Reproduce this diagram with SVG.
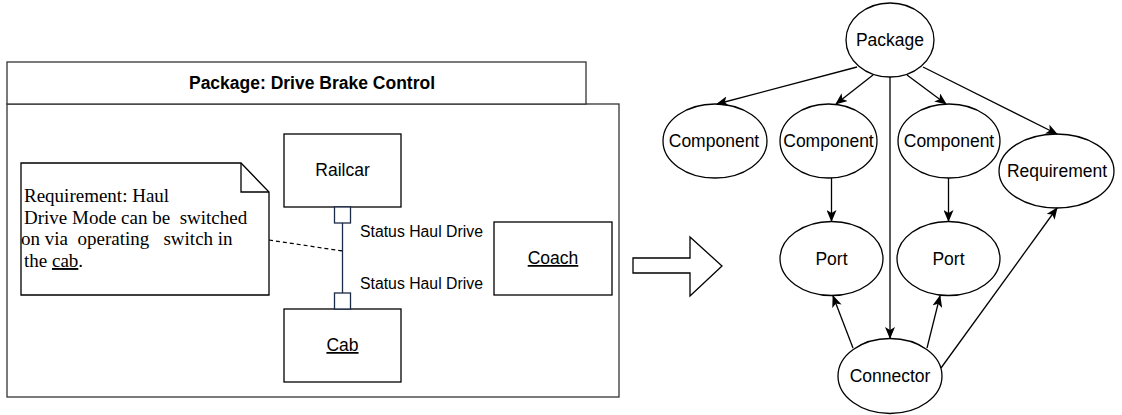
<svg xmlns="http://www.w3.org/2000/svg" width="1122" height="415" viewBox="0 0 1122 415">
  <style>
    .sans { font-family: "Liberation Sans", Arial, sans-serif; fill: #000; }
    .lbl { font-size: 17.5px; text-anchor: middle; }
    .serif { font-family: "Liberation Serif", "Times New Roman", serif; fill: #000; font-size: 19px; white-space: pre; }
    .box { fill: #fff; stroke: #333; stroke-width: 1.3; }
    .node { fill: #fff; stroke: #000; stroke-width: 1.3; }
    .edge { fill: none; stroke: #000; stroke-width: 1.3; }
    .port { fill: #fff; stroke: #1b2a45; stroke-width: 1.3; }
    .u { text-decoration: underline; }
  </style>
  <defs>
    <marker id="arrow" viewBox="0 0 12 10" refX="11" refY="5" markerWidth="12" markerHeight="10" markerUnits="userSpaceOnUse" orient="auto">
      <path d="M0,0 L12,5 L0,10 L3,5 Z" fill="#000"/>
    </marker>
  </defs>

  <rect width="1122" height="415" fill="#fff"/>

  <!-- Package frame -->
  <g id="package-frame">
    <rect class="box" x="7" y="104" width="612" height="293"/>
    <rect class="box" x="7" y="62" width="579" height="42"/>
    <text class="sans" x="312" y="89" font-size="17.5" font-weight="bold" text-anchor="middle">Package: Drive Brake Control</text>
  </g>

  <!-- Requirement note -->
  <g id="note">
    <path class="node" d="M21,163 H241 L269,192 V295 H21 Z"/>
    <path class="edge" d="M241,163 V192 H269"/>
    <text class="serif" x="24" y="202">Requirement: Haul</text>
    <text class="serif" x="24" y="224">Drive Mode can be  switched</text>
    <text class="serif" x="21" y="245">on via  operating   switch in</text>
    <text class="serif" x="24" y="267">the <tspan class="u">cab</tspan>.</text>
  </g>

  <g id="railcar">
    <rect class="node" x="284" y="134" width="117" height="73"/>
    <text class="sans lbl" x="342.5" y="176">Railcar</text>
  </g>

  <g id="cab">
    <rect class="node" x="284" y="309" width="117" height="73"/>
    <text class="sans lbl u" x="342.5" y="351">Cab</text>
  </g>

  <g id="coach">
    <rect class="node" x="494" y="222" width="118" height="73"/>
    <text class="sans lbl u" x="553" y="264">Coach</text>
  </g>

  <!-- Ports and link between Railcar and Cab -->
  <g id="link">
    <line x1="342.5" y1="223" x2="342.5" y2="293" stroke="#1b2a45" stroke-width="1.3"/>
    <rect class="port" x="334.5" y="207" width="16" height="16"/>
    <rect class="port" x="334.5" y="293" width="16" height="16"/>
    <line x1="269" y1="240" x2="342.5" y2="251" stroke="#000" stroke-width="1.2" stroke-dasharray="4,3"/>
    <text class="sans" x="360" y="237" font-size="15.8">Status Haul Drive</text>
    <text class="sans" x="360" y="289" font-size="15.8">Status Haul Drive</text>
  </g>

  <!-- Transformation arrow -->
  <g id="block-arrow">
    <path class="node" d="M633,258 H690 V237 L722,266 L690,296 V273 H633 Z"/>
  </g>

  <!-- Graph nodes -->
  <g id="n-package">
    <ellipse class="node" cx="890" cy="40" rx="44" ry="37"/>
    <text class="sans lbl" x="890" y="46">Package</text>
  </g>
  <g id="n-component1">
    <ellipse class="node" cx="715" cy="141" rx="52" ry="37"/>
    <text class="sans lbl" x="714" y="147">Component</text>
  </g>
  <g id="n-component2">
    <ellipse class="node" cx="828.5" cy="141" rx="48.5" ry="37"/>
    <text class="sans lbl" x="828.5" y="147">Component</text>
  </g>
  <g id="n-component3">
    <ellipse class="node" cx="949" cy="141" rx="51" ry="37"/>
    <text class="sans lbl" x="949" y="147">Component</text>
  </g>
  <g id="n-requirement">
    <ellipse class="node" cx="1056.5" cy="171" rx="57.5" ry="37"/>
    <text class="sans lbl" x="1057" y="177">Requirement</text>
  </g>
  <g id="n-port1">
    <ellipse class="node" cx="831.5" cy="258.5" rx="51.5" ry="37"/>
    <text class="sans lbl" x="831.5" y="264.5">Port</text>
  </g>
  <g id="n-port2">
    <ellipse class="node" cx="948.5" cy="258.5" rx="51.5" ry="37"/>
    <text class="sans lbl" x="948.5" y="264.5">Port</text>
  </g>
  <g id="n-connector">
    <ellipse class="node" cx="890" cy="376" rx="52" ry="37.5"/>
    <text class="sans lbl" x="890" y="382">Connector</text>
  </g>

  <!-- Graph edges -->
  <g id="connectors">
    <line class="edge" x1="857" y1="67" x2="717" y2="104" marker-end="url(#arrow)"/>
    <line class="edge" x1="873" y1="75" x2="836" y2="104" marker-end="url(#arrow)"/>
    <line class="edge" x1="890" y1="77" x2="890" y2="338" marker-end="url(#arrow)"/>
    <line class="edge" x1="907" y1="75" x2="946" y2="104" marker-end="url(#arrow)"/>
    <line class="edge" x1="923" y1="67" x2="1057" y2="134" marker-end="url(#arrow)"/>
    <line class="edge" x1="831.5" y1="178" x2="831.5" y2="221" marker-end="url(#arrow)"/>
    <line class="edge" x1="948.5" y1="178" x2="948.5" y2="221" marker-end="url(#arrow)"/>
    <line class="edge" x1="853" y1="348" x2="833" y2="296" marker-end="url(#arrow)"/>
    <line class="edge" x1="927" y1="348" x2="940" y2="296" marker-end="url(#arrow)"/>
    <line class="edge" x1="941" y1="368" x2="1057" y2="208" marker-end="url(#arrow)"/>
  </g>
</svg>
